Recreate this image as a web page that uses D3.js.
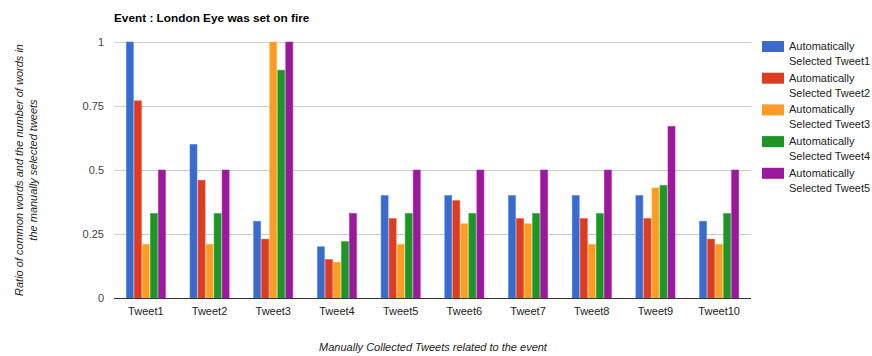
<!DOCTYPE html>
<html>
<head>
<meta charset="utf-8">
<script src="https://cdn.jsdelivr.net/npm/d3@7/dist/d3.min.js"></script>
<style>
  html, body { margin: 0; padding: 0; background: #fff; }
  svg { display: block; font-family: "Liberation Sans", Arial, sans-serif; }
</style>
</head>
<body>
<svg id="chart" width="872" height="356"></svg>
<script>
// Categories along the x axis
const tweets = ["Tweet1", "Tweet2", "Tweet3", "Tweet4", "Tweet5",
                "Tweet6", "Tweet7", "Tweet8", "Tweet9", "Tweet10"];

// Series names
const seriesNames = [
  "Automatically Selected Tweet1",
  "Automatically Selected Tweet2",
  "Automatically Selected Tweet3",
  "Automatically Selected Tweet4",
  "Automatically Selected Tweet5"
];

// Values per series (one value per manually collected tweet)
const auto1 = [1.00, 0.60, 0.30, 0.20, 0.40, 0.40, 0.40, 0.40, 0.40, 0.30];
const auto2 = [0.77, 0.46, 0.23, 0.15, 0.31, 0.38, 0.31, 0.31, 0.31, 0.23];
const auto3 = [0.21, 0.21, 1.00, 0.14, 0.21, 0.29, 0.29, 0.21, 0.43, 0.21];
const auto4 = [0.33, 0.33, 0.89, 0.22, 0.33, 0.33, 0.33, 0.33, 0.44, 0.33];
const auto5 = [0.50, 0.50, 1.00, 0.33, 0.50, 0.50, 0.50, 0.50, 0.67, 0.50];

const yTicks = [0, 0.25, 0.5, 0.75, 1];
const yTickLabels = ["0", "0.25", "0.5", "0.75", "1"];

const colors = ["#3a6bcb", "#dc3c22", "#fe9a28", "#1f9427", "#99199a"];

const seriesValues = [auto1, auto2, auto3, auto4, auto5];
const rows = tweets.map((t, i) => ({
  tweet: t,
  values: seriesNames.map((s, j) => ({ series: s, idx: j, value: seriesValues[j][i] }))
}));

const svg = d3.select("#chart");

const plot = { left: 114, right: 751, top: 42, bottom: 298 };

const x0 = d3.scaleBand()
  .domain(tweets)
  .range([plot.left, plot.right])
  .paddingInner(0.37)
  .paddingOuter(0.185);

const x1 = d3.scaleBand()
  .domain(d3.range(seriesNames.length))
  .range([0, x0.bandwidth()]);

const y = d3.scaleLinear().domain([0, 1]).range([plot.bottom, plot.top]);

// Horizontal gridlines
svg.append("g")
  .selectAll("line")
  .data(yTicks.filter(d => d > 0))
  .join("line")
  .attr("x1", plot.left)
  .attr("x2", plot.right)
  .attr("y1", d => Math.round(y(d)) + 0.5)
  .attr("y2", d => Math.round(y(d)) + 0.5)
  .attr("stroke", "#cccccc")
  .attr("stroke-width", 1);

// Y axis tick labels
const yAxis = d3.axisLeft(y)
  .tickValues(yTicks)
  .tickFormat((d, i) => yTickLabels[i])
  .tickSize(0)
  .tickPadding(10);

svg.append("g")
  .attr("transform", `translate(${plot.left},0)`)
  .call(yAxis)
  .call(g => g.select(".domain").remove())
  .call(g => g.selectAll("text")
    .attr("font-size", 11)
    .attr("fill", "#444")
    .attr("font-family", "Liberation Sans, Arial, sans-serif"));

// Bars
const groups = svg.append("g")
  .selectAll("g")
  .data(rows)
  .join("g")
  .attr("transform", d => `translate(${x0(d.tweet)},0)`);

groups.selectAll("rect")
  .data(d => d.values)
  .join("rect")
  .attr("x", d => x1(d.idx) + 0.5)
  .attr("y", d => y(d.value))
  .attr("width", x1.bandwidth() - 1)
  .attr("height", d => y(0) - y(d.value))
  .attr("fill", d => colors[d.idx])
  .attr("stroke", d => d3.color(colors[d.idx]).brighter(0.6))
  .attr("stroke-width", 0.6);

// Baseline
svg.append("line")
  .attr("x1", plot.left)
  .attr("x2", plot.right)
  .attr("y1", y(0) + 0.5)
  .attr("y2", y(0) + 0.5)
  .attr("stroke", "#333")
  .attr("stroke-width", 1);

// X axis category labels
const xAxis = d3.axisBottom(x0).tickSize(0).tickPadding(9);
svg.append("g")
  .attr("transform", `translate(0,${plot.bottom})`)
  .call(xAxis)
  .call(g => g.select(".domain").remove())
  .call(g => g.selectAll("text")
    .attr("font-size", 11)
    .attr("fill", "#222")
    .attr("font-family", "Liberation Sans, Arial, sans-serif"));

// Title
svg.append("text")
  .attr("x", 114)
  .attr("y", 22)
  .attr("font-size", 11.8)
  .attr("font-weight", "bold")
  .attr("fill", "#000")
  .text("Event : London Eye was set on fire");

// Axis titles
svg.append("text")
  .attr("x", 433)
  .attr("y", 351)
  .attr("text-anchor", "middle")
  .attr("font-size", 11)
  .attr("font-style", "italic")
  .attr("fill", "#222")
  .text("Manually Collected Tweets related to the event");

const yTitle = svg.append("text")
  .attr("transform", "translate(0,170) rotate(-90)")
  .attr("text-anchor", "middle")
  .attr("font-size", 11)
  .attr("font-style", "italic")
  .attr("fill", "#222");
yTitle.append("tspan").attr("x", 0).attr("y", 23)
  .text("Ratio of common words and the number of words in");
yTitle.append("tspan").attr("x", 0).attr("y", 37)
  .text("the manually selected tweets");

// Legend
const legend = svg.append("g")
  .selectAll("g")
  .data(seriesNames)
  .join("g")
  .attr("transform", (d, i) => `translate(762,${41 + i * 31.7})`);

legend.append("rect")
  .attr("width", 22)
  .attr("height", 11)
  .attr("fill", (d, i) => colors[i]);

legend.append("text")
  .attr("x", 27)
  .attr("font-size", 11)
  .attr("fill", "#222")
  .each(function (d) {
    const words = d.split(" ");
    const t = d3.select(this);
    t.append("tspan").attr("x", 27).attr("y", 9).text(words[0]);
    t.append("tspan").attr("x", 27).attr("y", 24).text(words.slice(1).join(" "));
  });
</script>
</body>
</html>
